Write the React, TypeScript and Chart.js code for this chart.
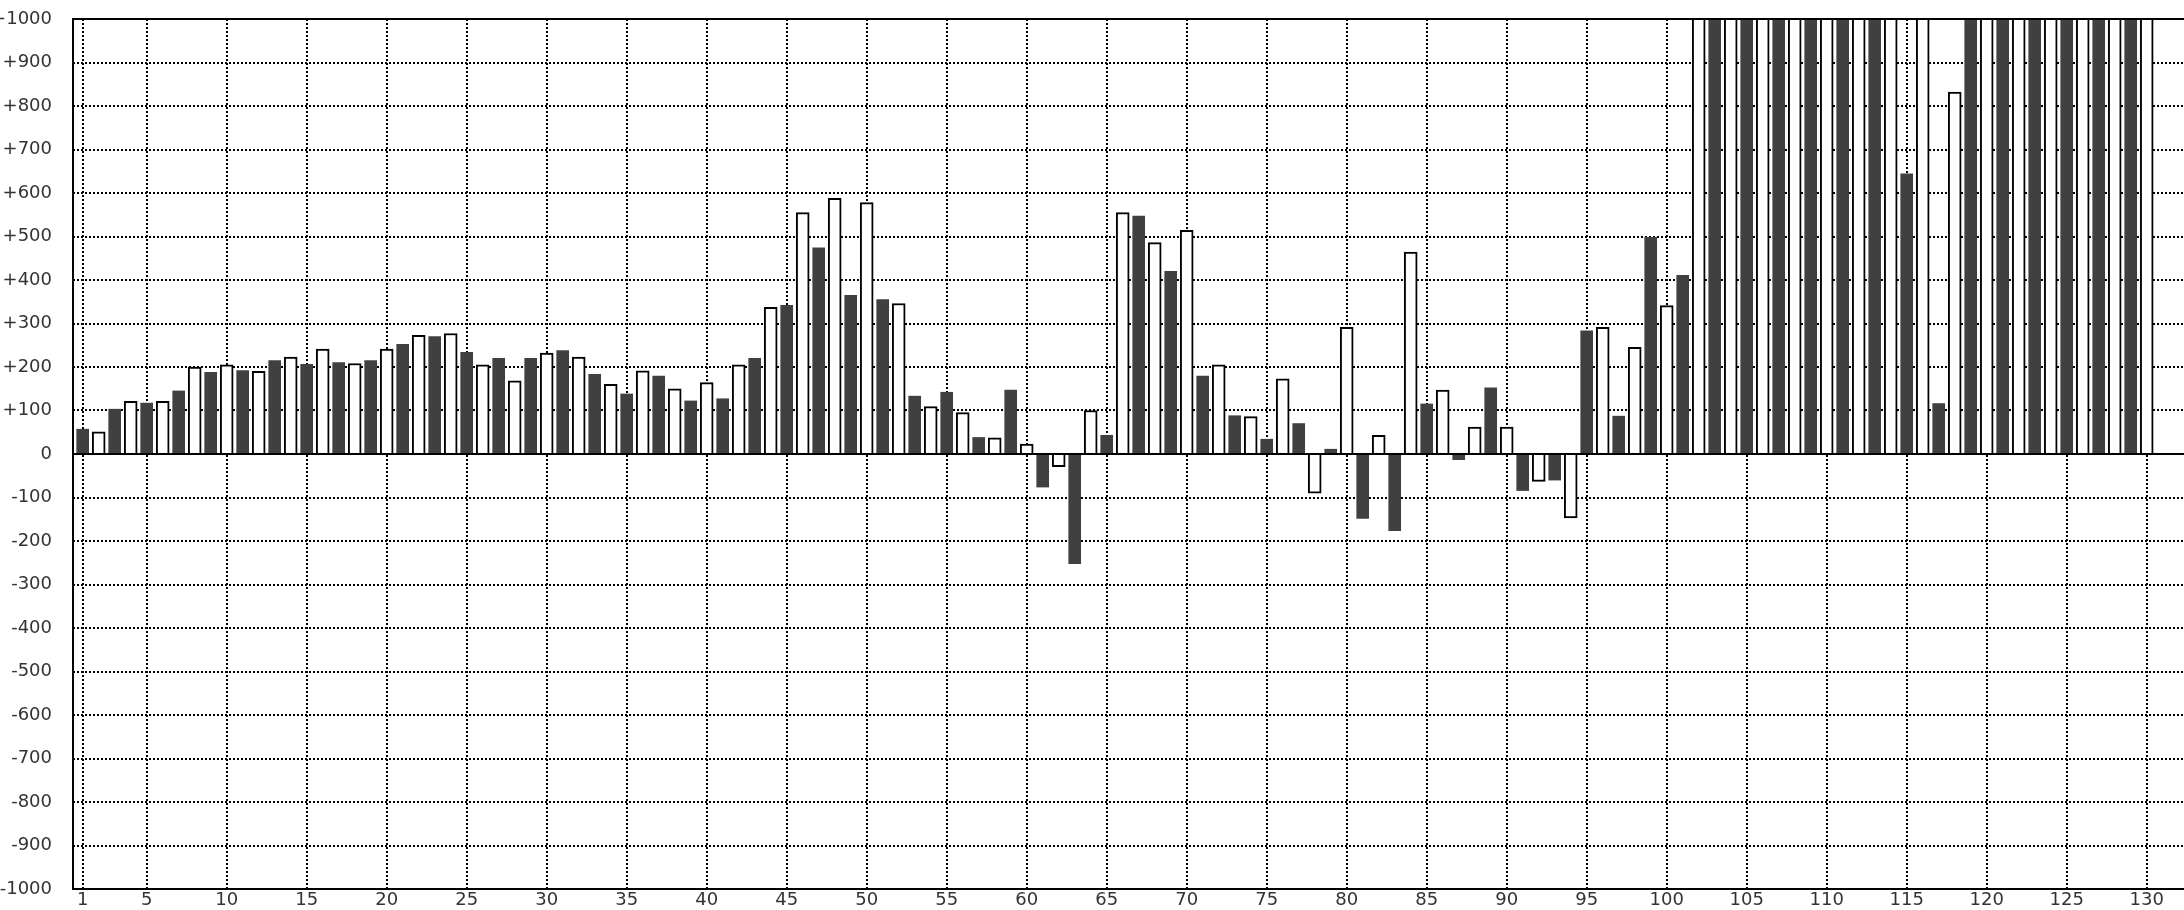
import React, { useEffect, useRef } from "react";
import { Chart, registerables } from "chart.js";

Chart.register(...registerables);

// Category numbers 1..130 (x positions)
const categories: number[] = Array.from({ length: 130 }, (_, i) => i + 1);

// Bar values (values above +1000 are clipped at the top)
const values: number[] = [
  57, 51, 103, 121, 117, 121, 145, 200, 188, 205,
  192, 190, 215, 223, 206, 241, 210, 208, 215, 241,
  252, 273, 270, 277, 234, 205, 220, 168, 220, 232,
  238, 223, 183, 160, 138, 191, 179, 150, 122, 164,
  127, 205, 220, 337, 342, 555, 474, 588, 365, 578,
  355, 346, 133, 109, 142, 95, 38, 37, 147, 23,
  -76, -29, -252, 100, 43, 555, 547, 486, 420, 514,
  179, 205, 88, 86, 34, 173, 70, -90, 11, 291,
  -148, 43, -176, 464, 115, 147, -13, 62, 152, 62,
  -84, -63, -60, -147, 283, 291, 87, 245, 498, 341,
  411, 1200, 1200, 1200, 1200, 1200, 1200, 1200, 1200, 1200,
  1200, 1200, 1200, 1200, 644, 1200, 116, 832, 1200, 1200,
  1200, 1200, 1200, 1200, 1200, 1200, 1200, 1200, 1200, 1200,
];

// Tick values
const xTickValues: number[] = [
  1, 5, 10, 15, 20, 25, 30, 35, 40, 45, 50, 55, 60, 65,
  70, 75, 80, 85, 90, 95, 100, 105, 110, 115, 120, 125, 130,
];
const yMin = -1000;
const yMax = 1000;
const yStep = 100;

const darkFill = "#404040";
const lightFill = "#ffffff";
const labelFont = { family: "'DejaVu Sans'", size: 18 };
const labelColor = "#333333";

export default function App() {
  const ref = useRef<HTMLCanvasElement>(null);

  useEffect(() => {
    const canvas = ref.current;
    if (!canvas) return;

    const darkData = categories
      .filter((c) => c % 2 === 1)
      .map((c) => ({ x: c, y: values[c - 1] }));
    const lightData = categories
      .filter((c) => c % 2 === 0)
      .map((c) => ({ x: c, y: values[c - 1] }));

    const framePlugin = {
      id: "frame",
      afterDatasetsDraw(chart: any) {
        const { ctx, chartArea: a, scales } = chart;
        const y0 = Math.round(scales.y.getPixelForValue(0));
        ctx.save();
        ctx.strokeStyle = "#000";
        ctx.lineWidth = 2;
        ctx.setLineDash([]);
        ctx.beginPath();
        ctx.moveTo(a.left, y0);
        ctx.lineTo(a.right, y0);
        ctx.moveTo(a.left, a.top);
        ctx.lineTo(a.right, a.top);
        ctx.moveTo(a.left, a.bottom);
        ctx.lineTo(a.right, a.bottom);
        ctx.moveTo(a.left, a.top - 1);
        ctx.lineTo(a.left, a.bottom + 1);
        ctx.stroke();
        ctx.restore();
      },
    };

    const chart = new Chart(canvas, {
      type: "bar",
      data: {
        datasets: [
          {
            data: darkData as any,
            backgroundColor: darkFill,
            borderWidth: 0,
            barThickness: 12,
            grouped: false,
            clip: 0,
          } as any,
          {
            data: lightData as any,
            backgroundColor: lightFill,
            borderColor: "#000",
            borderWidth: 2,
            barThickness: 13,
            grouped: false,
            clip: 0,
          } as any,
        ],
      },
      options: {
        animation: false,
        responsive: false,
        events: [],
        layout: { padding: { top: 19, left: 0, right: 0, bottom: 0 } },
        plugins: {
          legend: { display: false },
          tooltip: { enabled: false },
        },
        scales: {
          x: {
            type: "linear",
            offset: false,
            min: 0.394,
            max: 132.33,
            grid: { color: "#000", lineWidth: 2, drawTicks: false, offset: false },
            border: { display: false, dash: [2, 2] },
            ticks: {
              font: labelFont,
              color: labelColor,
              padding: 1,
              maxRotation: 0,
              autoSkip: false,
              callback: (v: any) => String(v),
            },
            afterBuildTicks: (s: any) => {
              s.ticks = xTickValues.map((v) => ({ value: v }));
            },
            afterFit: (s: any) => {
              s.height = 21;
              s.paddingLeft = 0;
              s.paddingRight = 0;
              s.paddingTop = 0;
              s.paddingBottom = 0;
            },
          },
          y: {
            min: yMin,
            max: yMax,
            grid: { color: "#000", lineWidth: 2, drawTicks: false },
            border: { display: false, dash: [2, 2] },
            ticks: {
              stepSize: yStep,
              font: labelFont,
              color: labelColor,
              padding: 21,
              autoSkip: false,
              callback: (v: any) => (v > 0 ? "+" + v : String(v)),
            },
            afterFit: (s: any) => {
              s.width = 73;
              s.paddingLeft = 0;
              s.paddingRight = 0;
              s.paddingTop = 0;
              s.paddingBottom = 0;
            },
          },
        },
      } as any,
      plugins: [framePlugin],
    });

    return () => chart.destroy();
  }, []);

  return (
    <canvas
      ref={ref}
      width={2184}
      height={910}
      style={{ position: "absolute", left: 0, top: 0, display: "block" }}
    />
  );
}
